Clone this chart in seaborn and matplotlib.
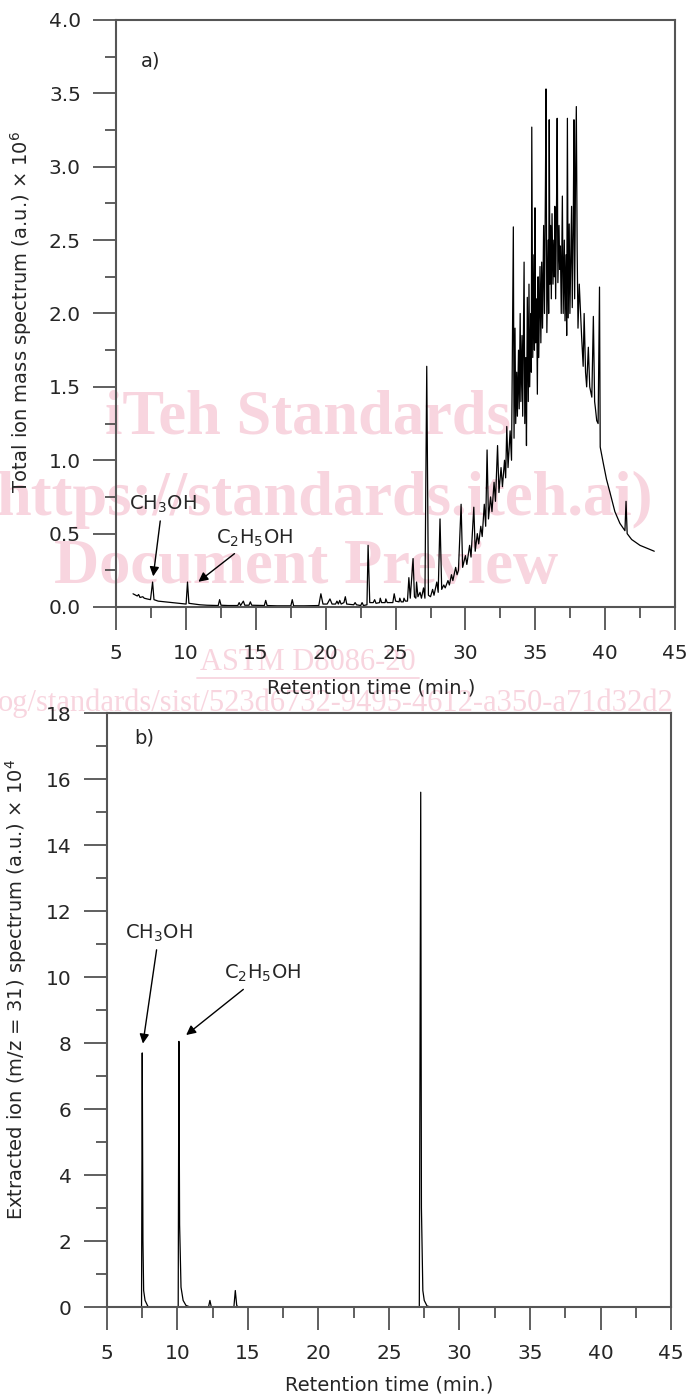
import seaborn as sns
import matplotlib.pyplot as plt
from matplotlib.ticker import MultipleLocator

# panel a) total ion chromatogram, (min, a.u. x 1e6)
tic_early = [(6.2, 0.09), (6.5, 0.075), (6.6, 0.085), (6.7, 0.065), (6.9, 0.07), (7.0, 0.06),
             (7.2, 0.055), (7.45, 0.05), (7.6, 0.17), (7.7, 0.05), (8.0, 0.04), (8.5, 0.035),
             (9.0, 0.03), (9.5, 0.025), (10.0, 0.02), (10.1, 0.17), (10.2, 0.025), (10.6, 0.02),
             (11.0, 0.015), (11.5, 0.012), (12.3, 0.01), (12.4, 0.05), (12.5, 0.012), (13.0, 0.01),
             (13.7, 0.01), (13.8, 0.03), (13.9, 0.01), (14.1, 0.04), (14.2, 0.012), (14.5, 0.012),
             (14.6, 0.035), (14.7, 0.012), (15.6, 0.01), (15.7, 0.045), (15.8, 0.01), (16.5, 0.008),
             (17.5, 0.008), (17.6, 0.05), (17.7, 0.008), (18.5, 0.008), (19.5, 0.01), (19.65, 0.09),
             (19.8, 0.02), (20.1, 0.02), (20.3, 0.055), (20.45, 0.02), (20.7, 0.02), (20.8, 0.04),
             (20.9, 0.02), (21.0, 0.045), (21.1, 0.02), (21.3, 0.03), (21.4, 0.07), (21.5, 0.02),
             (22.0, 0.015), (22.1, 0.03), (22.2, 0.015), (22.5, 0.01), (22.6, 0.03), (22.7, 0.01),
             (22.95, 0.015), (23.03, 0.42), (23.15, 0.03), (23.4, 0.03), (23.5, 0.05), (23.6, 0.025),
             (23.85, 0.03), (23.9, 0.06), (24.0, 0.03), (24.25, 0.03), (24.3, 0.055), (24.4, 0.03),
             (24.8, 0.03), (24.9, 0.09), (25.0, 0.04), (25.25, 0.035), (25.3, 0.06), (25.4, 0.035),
             (25.55, 0.035), (25.6, 0.06), (25.7, 0.04), (25.85, 0.04), (25.95, 0.2), (26.05, 0.06),
             (26.25, 0.33), (26.35, 0.07), (26.45, 0.06), (26.5, 0.17), (26.6, 0.07), (26.75, 0.1),
             (26.85, 0.06), (27.0, 0.13), (27.1, 0.06), (27.23, 1.64), (27.35, 0.08), (27.5, 0.07),
             (27.65, 0.12), (27.75, 0.08), (27.95, 0.17), (28.05, 0.1), (28.18, 0.60), (28.3, 0.12),
             (28.45, 0.15), (28.55, 0.13), (28.75, 0.18), (28.85, 0.15), (29.0, 0.22), (29.1, 0.18),
             (29.3, 0.27), (29.4, 0.22), (29.5, 0.25), (29.69, 0.70), (29.8, 0.27), (30.0, 0.35),
             (30.1, 0.29), (30.3, 0.42), (30.4, 0.34), (30.6, 0.68), (30.7, 0.38), (30.85, 0.5),
             (30.95, 0.43), (31.1, 0.55), (31.2, 0.48), (31.35, 0.7), (31.45, 0.55), (31.55, 1.07),
             (31.65, 0.6), (31.8, 0.75), (31.9, 0.65), (32.05, 0.85), (32.15, 0.72), (32.3, 1.10),
             (32.4, 0.78), (32.55, 0.95), (32.65, 0.82), (32.8, 1.0), (32.88, 0.88), (32.96, 1.23),
             (33.05, 0.95), (33.2, 1.2), (33.3, 1.0)]
tic_cluster = [(33.43, 2.59), (33.48, 1.15), (33.55, 1.9), (33.6, 1.25), (33.67, 1.6), (33.72, 1.3),
               (33.8, 1.75), (33.85, 1.35), (33.92, 2.0), (33.97, 1.4), (34.05, 1.85), (34.1, 1.3),
               (34.2, 2.35), (34.25, 1.25), (34.32, 1.7), (34.37, 1.1), (34.43, 2.11), (34.5, 1.4),
               (34.55, 2.2), (34.6, 1.5), (34.68, 2.0), (34.72, 1.6), (34.75, 3.27), (34.82, 1.7),
               (34.9, 2.4), (34.94, 1.75), (34.98, 2.72), (35.03, 1.8), (35.1, 2.1), (35.15, 1.45),
               (35.2, 2.25), (35.25, 1.7), (35.34, 2.32), (35.4, 1.8), (35.46, 2.35), (35.52, 1.9),
               (35.6, 2.6), (35.66, 2.0), (35.73, 2.9), (35.77, 3.53), (35.83, 1.87), (35.92, 2.5),
               (35.96, 2.0), (36.0, 3.32), (36.05, 2.2), (36.1, 2.6), (36.15, 2.1), (36.2, 2.68),
               (36.27, 2.2), (36.33, 2.5), (36.37, 2.25), (36.4, 2.73), (36.46, 2.1), (36.52, 2.7),
               (36.57, 3.33), (36.62, 2.21), (36.7, 2.6), (36.75, 2.3), (36.8, 2.46), (36.86, 2.0),
               (36.94, 2.80), (37.0, 2.0), (37.08, 2.5), (37.13, 1.95), (37.2, 2.4), (37.25, 1.85),
               (37.3, 3.33), (37.36, 1.97), (37.43, 2.61), (37.48, 2.0), (37.55, 2.4), (37.6, 2.73),
               (37.65, 2.04), (37.72, 2.6), (37.77, 3.32), (37.82, 2.1), (37.88, 2.9), (37.94, 3.41),
               (38.0, 2.43), (38.06, 1.9)]
tic_late = [(38.15, 2.2), (38.32, 1.84), (38.43, 1.64), (38.5, 2.0), (38.6, 1.6), (38.68, 1.5),
            (38.8, 1.77), (38.9, 1.5), (39.05, 1.43), (39.16, 1.98), (39.25, 1.4), (39.3, 1.36),
            (39.4, 1.27), (39.5, 1.25), (39.6, 2.18), (39.65, 1.09), (39.87, 0.98), (40.1, 0.87),
            (40.35, 0.78), (40.7, 0.65), (41.06, 0.57), (41.42, 0.52), (41.5, 0.72), (41.58, 0.50),
            (41.9, 0.46), (42.5, 0.42), (43.0, 0.40), (43.52, 0.38)]

# panel b) extracted ion m/z 31 (a.u. x 1e4)
eic_time = [6.0, 7.45, 7.5, 7.55, 7.6, 7.7, 7.9, 8.1, 10.05, 10.1, 10.15, 10.25, 10.4, 10.6, 10.9,
            12.2, 12.3, 12.4, 14.0, 14.1, 14.2, 14.3, 27.15, 27.25, 27.3, 27.4, 27.5, 27.7, 28.0, 44.0]
eic_signal = [0.0, 0.0, 7.7, 2.0, 0.5, 0.2, 0.02, 0.0, 0.0, 8.05, 2.5, 0.6, 0.2, 0.05, 0.0,
              0.0, 0.2, 0.0, 0.0, 0.5, 0.05, 0.0, 0.0, 15.6, 3.0, 0.5, 0.2, 0.03, 0.0, 0.0]

xlabel = 'Retention time (min.)'
ylabel_a = r'Total ion mass spectrum (a.u.) $\times$ 10$^6$'
ylabel_b = r'Extracted ion (m/z = 31) spectrum (a.u.) $\times$ 10$^4$'

tic_time, tic_signal = zip(*(tic_early + tic_cluster + tic_late))

sns.set_style('ticks')
plt.rcParams['font.family'] = ['DejaVu Sans']
plt.rcParams['mathtext.fontset'] = 'dejavusans'

fig = plt.figure(figsize=(6.88, 13.97), dpi=100)
ax1 = fig.add_axes([0.169, 0.5655, 0.812, 0.4202])
ax2 = fig.add_axes([0.1555, 0.0644, 0.8198, 0.4252])

sns.lineplot(x=list(tic_time), y=list(tic_signal), ax=ax1, color='black', lw=0.9, estimator=None)
sns.lineplot(x=eic_time, y=eic_signal, ax=ax2, color='black', lw=0.9, estimator=None)

ax1.set_ylim(0, 4)
ax1.yaxis.set_major_locator(MultipleLocator(0.5))
ax1.yaxis.set_minor_locator(MultipleLocator(0.25))
ax1.yaxis.set_major_formatter('{x:.1f}')
ax2.set_ylim(0, 18)
ax2.yaxis.set_major_locator(MultipleLocator(2))
ax2.yaxis.set_minor_locator(MultipleLocator(1))

for ax in (ax1, ax2):
    ax.set_xlim(5, 45)
    ax.xaxis.set_major_locator(MultipleLocator(5))
    ax.xaxis.set_minor_locator(MultipleLocator(2.5))
    ax.tick_params(which='major', length=16.5, width=1.2, color='#444', labelsize=14.5, direction='out')
    ax.tick_params(which='minor', length=8, width=1.2, color='#444', direction='out')
    ax.tick_params(axis='x', pad=10)
    ax.tick_params(axis='y', pad=9)
    for s in ax.spines.values():
        s.set_visible(True)
        s.set_color('#555')
        s.set_linewidth(1.5)
    ax.patch.set_visible(False)
    ax.set_xlabel(xlabel, fontsize=14)

ax1.set_ylabel(ylabel_a, fontsize=14)
ax2.set_ylabel(ylabel_b, fontsize=14)
ax1.yaxis.set_label_coords(-0.148, 0.503)
ax2.yaxis.set_label_coords(-0.138, 0.534)
ax1.xaxis.set_label_coords(0.457, -0.121)
ax2.xaxis.set_label_coords(0.5, -0.1145)

ax1.text(7.43, 3.72, 'a)', fontsize=14, ha='center', va='center')
ax2.text(7.62, 17.24, 'b)', fontsize=14, ha='center', va='center')

arrow = dict(arrowstyle='-|>', color='black', lw=1.0, mutation_scale=14)
ax1.annotate('CH$_3$OH', xy=(7.62, 0.19), xytext=(8.3, 0.70), fontsize=14, ha='center', va='center',
             arrowprops=arrow)
ax1.annotate('C$_2$H$_5$OH', xy=(10.72, 0.16), xytext=(14.9, 0.47), fontsize=14, ha='center',
             va='center', arrowprops=arrow)
ax2.annotate('CH$_3$OH', xy=(7.52, 7.9), xytext=(8.69, 11.33), fontsize=14, ha='center', va='center',
             arrowprops=arrow)
ax2.annotate('C$_2$H$_5$OH', xy=(10.46, 8.19), xytext=(16.06, 10.1), fontsize=14, ha='center',
             va='center', arrowprops=arrow)

# preview watermark behind the plots
pink = '#f8d5df'
wm = dict(color=pink, family='Liberation Serif', zorder=-1)
fig.text(308 / 688, 1 - 418 / 1397, 'iTeh Standards', fontsize=45, weight='bold', ha='center', va='center', **wm)
fig.text(325 / 688, 1 - 500 / 1397, 'https://standards.iteh.ai)', fontsize=45, weight='bold', ha='center', va='center', **wm)
fig.text(306 / 688, 1 - 568 / 1397, 'Document Preview', fontsize=45, weight='bold', ha='center', va='center', **wm)
fig.text(308 / 688, 1 - 663 / 1397, 'ASTM D8086-20', fontsize=22, ha='center', va='center', **wm)
fig.add_artist(plt.Line2D([197 / 688, 419 / 688], [1 - 678 / 1397, 1 - 678 / 1397], color=pink, lw=1.3, zorder=-1))
fig.text(-2 / 688, 1 - 703 / 1397, 'og/standards/sist/523d6732-9495-4612-a350-a71d32d2', fontsize=22, ha='left', va='center', **wm)

fig.savefig('out.png', dpi=100, facecolor='white')
